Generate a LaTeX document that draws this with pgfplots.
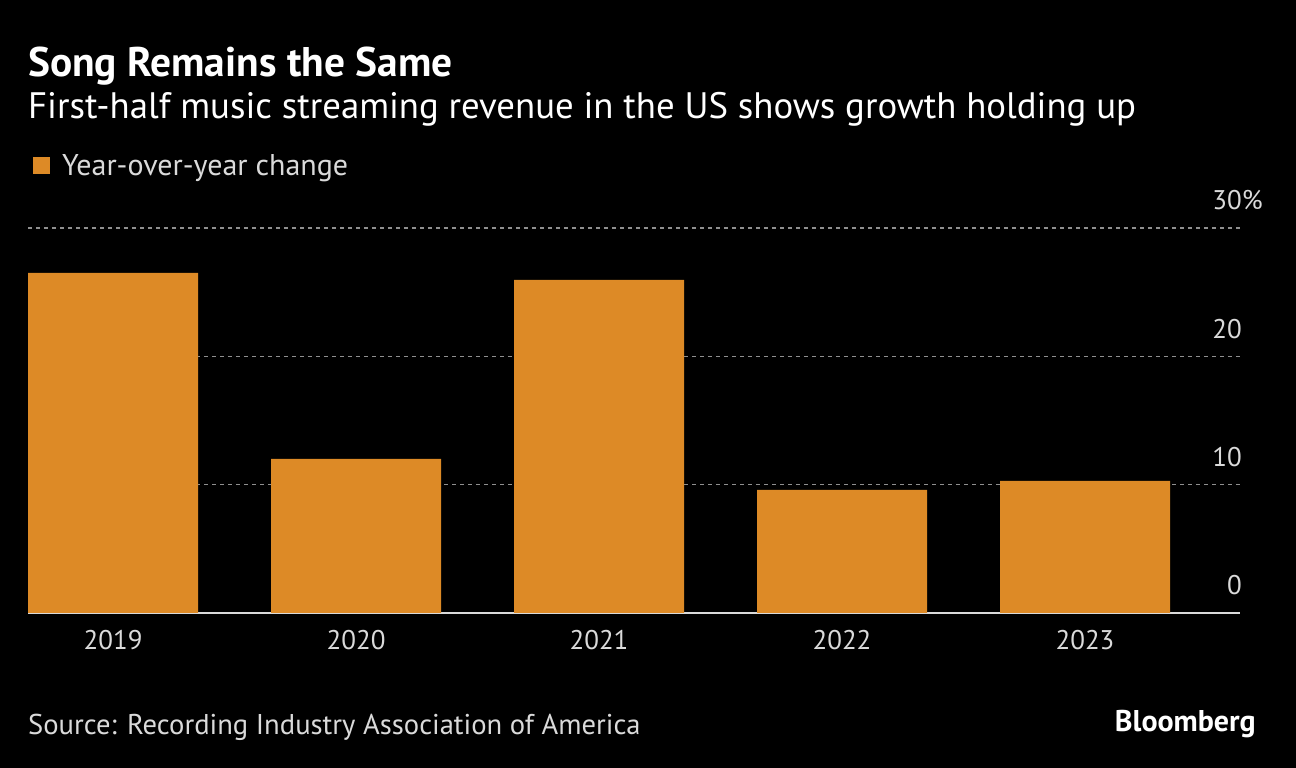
\documentclass[border=0pt]{standalone}
\usepackage{pgfplots}
\pgfplotsset{compat=1.18}
\usepackage{fontspec}
\setmainfont{PT Sans}
\definecolor{barorange}{HTML}{DD8A26}
\definecolor{gridgray}{HTML}{8F8F8F}
\definecolor{txtgray}{HTML}{DADADA}
\begin{document}
\begin{tikzpicture}[x=1bp,y=1bp]
\fill[black] (0,0) rectangle (1296,768);
\path[use as bounding box] (0,0) rectangle (1296,768);
\node[anchor=base west, inner sep=0pt, text=white, font=\fontsize{41.4bp}{45bp}\selectfont\bfseries] at (28,691) {Song Remains the Same};
\node[anchor=base west, inner sep=0pt, text=white, font=\fontsize{36.8bp}{40bp}\selectfont] at (28,649) {First-half music streaming revenue in the US shows growth holding up};
\fill[barorange] (33,594) rectangle (50,611);
\node[anchor=base west, inner sep=0pt, text=txtgray, font=\fontsize{30bp}{33bp}\selectfont] at (62,592) {Year-over-year change};
\node[anchor=base west, inner sep=0pt, text=txtgray, font=\fontsize{28.6bp}{31bp}\selectfont] at (28,33) {Source: Recording Industry Association of America};
\node[anchor=base east, inner sep=0pt, text=white, font=\fontsize{30bp}{33bp}\selectfont\bfseries] at (1256,36) {Bloomberg};
\begin{axis}[
  at={(28bp,155bp)}, anchor=south west,
  scale only axis, width=1212bp, height=385bp,
  xmin=-0.35, xmax=4.638, ymin=0, ymax=30,
  separate axis lines,
  axis x line*=bottom, axis y line*=right,
  x axis line style={draw=txtgray, line width=1.2bp, -},
  y axis line style={draw=none},
  major tick length=0pt,
  xtick={0,1,2,3,4},
  xticklabels={2019,2020,2021,2022,2023},
  ytick={0,10,20,30},
  yticklabels={0,10,20,30\rlap{\%}},
  yticklabel style={anchor=base east, inner sep=0pt, yshift=18bp, xshift=2bp, text=txtgray, font=\fontsize{27bp}{30bp}\selectfont},
  xticklabel style={anchor=base, inner sep=0pt, yshift=-37bp, text=txtgray, font=\fontsize{27bp}{30bp}\selectfont},
  ymajorgrids,
  grid style={gridgray, line width=1.4bp, dash pattern=on 4bp off 4bp},
  axis on top=false,
]
\addplot[ybar, bar width=170bp, fill=barorange, draw=none] coordinates {
  (0,26.5) (1,12.0) (2,25.95) (3,9.6) (4,10.3)
};
\end{axis}
\end{tikzpicture}
\end{document}
